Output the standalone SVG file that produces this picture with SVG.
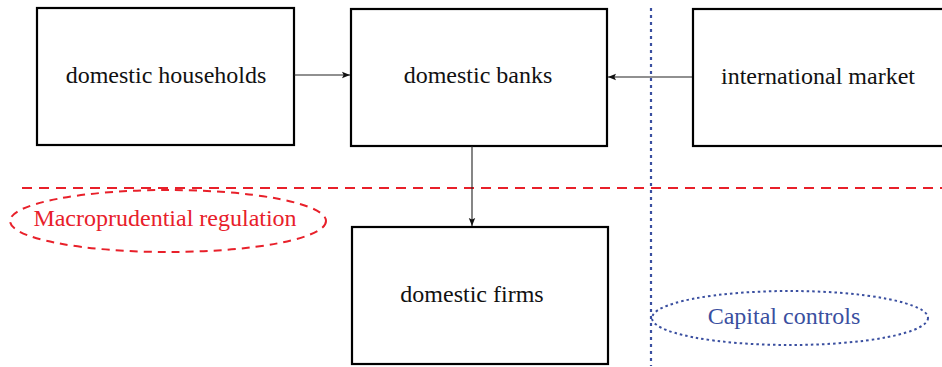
<svg xmlns="http://www.w3.org/2000/svg" width="942" height="367" viewBox="0 0 942 367">
  <style>
    .box { fill: #ffffff; stroke: #000000; stroke-width: 2.2; }
    .label { font-family: "Liberation Serif", "Times New Roman", serif; font-size: 24px; fill: #111111; text-anchor: middle; }
    .link { stroke: #222222; stroke-width: 1.1; fill: none; marker-end: url(#arrow); }
    .red { fill: #e8202a; }
    .blue { fill: #3a4fa0; }
  </style>
  <defs>
    <marker id="arrow" viewBox="0 0 10 10" refX="10" refY="5" markerWidth="8" markerHeight="8" markerUnits="userSpaceOnUse" orient="auto">
      <path d="M0,1 L10,5 L0,9 L2,5 Z" fill="#111111"/>
    </marker>
  </defs>

  <!-- regulatory boundaries -->
  <g id="boundaries">
    <line x1="22" y1="188" x2="942" y2="188" stroke="#e8202a" stroke-width="2" stroke-dasharray="10,7"/>
    <line x1="651" y1="8" x2="651" y2="366" stroke="#3a4fa0" stroke-width="2.2" stroke-dasharray="3,4"/>
  </g>

  <g id="households">
    <rect class="box" x="37" y="8" width="257" height="137"/>
    <text class="label" x="166" y="83">domestic households</text>
  </g>

  <g id="banks">
    <rect class="box" x="351" y="9" width="256" height="137"/>
    <text class="label" x="478" y="83">domestic banks</text>
  </g>

  <g id="international">
    <rect class="box" x="693" y="9" width="260" height="137"/>
    <text class="label" x="818" y="84">international market</text>
  </g>

  <g id="firms">
    <rect class="box" x="352" y="227" width="256" height="137"/>
    <text class="label" x="472" y="302">domestic firms</text>
  </g>

  <g id="macroprudential">
    <ellipse cx="168" cy="221" rx="158" ry="31" fill="none" stroke="#e8202a" stroke-width="2" stroke-dasharray="8,6"/>
    <text class="label red" x="165" y="226">Macroprudential regulation</text>
  </g>

  <g id="capital-controls">
    <ellipse cx="790" cy="318" rx="138" ry="27" fill="none" stroke="#3a4fa0" stroke-width="2" stroke-dasharray="2.5,3"/>
    <text class="label blue" x="784" y="324">Capital controls</text>
  </g>

  <g id="connectors">
    <line class="link" x1="294" y1="75" x2="350" y2="75"/>
    <line class="link" x1="692" y1="77" x2="608" y2="77"/>
    <line class="link" x1="472" y1="146" x2="472" y2="226"/>
  </g>
</svg>
